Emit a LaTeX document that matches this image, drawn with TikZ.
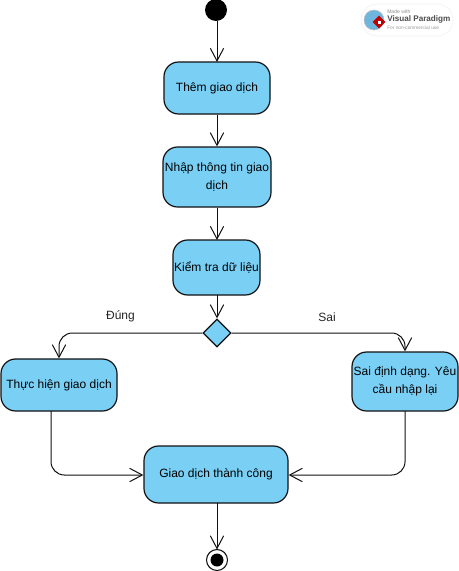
\documentclass[tikz,border=0pt]{standalone}
\usepackage{fontspec}
\setmainfont{Liberation Sans}
\usetikzlibrary{arrows.meta,shapes.geometric,calc}
\definecolor{fillblue}{HTML}{7ACFF5}
\definecolor{linedark}{HTML}{111111}
\definecolor{globeblue}{HTML}{6FB6DE}
\tikzset{
  x=0.75pt,y=-0.75pt,
  act/.style={draw=linedark,fill=fillblue,line width=0.9pt,rounded corners=11pt,align=center,font=\fontsize{9}{13}\selectfont,inner sep=0pt},
  flow/.style={draw=linedark,line width=0.75pt,-{Straight Barb[length=9.5pt,width=10pt,line width=0.75pt]},rounded corners=10pt},
  lbl/.style={font=\fontsize{9}{11}\selectfont,inner sep=0pt,text=black!85}
}
\newcommand{\actbox}[6]{\node[act,minimum width=#4*0.75pt,minimum height=#5*0.75pt] (#1) at (#2,#3) {#6};}
\begin{document}
\begin{tikzpicture}
\useasboundingbox (0,0) rectangle (459,571);
\fill[white] (0,0) rectangle (459,571);
% logo
\node[draw=black!6,fill=white,rounded corners=12pt,minimum width=92*0.75pt,minimum height=32*0.75pt,inner sep=0pt] (logo) at (407,20) {};
\node[circle,fill=globeblue,draw=black!25,minimum size=20*0.75pt,inner sep=0pt] (globe) at (374,20) {};
\node[diamond,fill=red!75!black,minimum size=13*0.75pt,inner sep=0pt] (gem) at (379,22) {};
\node[fill=white,minimum size=3*0.75pt,inner sep=0pt] (gemin) at (379,22) {};
\node[font=\fontsize{3.8}{4}\selectfont,text=black!45,anchor=west,inner sep=0pt] (l1) at (387,11.5) {Made with};
\node[font=\bfseries\fontsize{6.1}{7}\selectfont,text=black!70,anchor=west,inner sep=0pt] (l2) at (387,19) {Visual Paradigm};
\node[font=\fontsize{3.6}{4}\selectfont,text=black!40,anchor=west,inner sep=0pt] (l3) at (387,27.5) {For non-commercial use};
% nodes
\node[circle,fill=black,minimum size=22*0.75pt,inner sep=0pt] (start) at (216,10) {};
\actbox{them}{217}{88}{106}{52}{Thêm giao dịch}
\actbox{nhap}{217}{177}{108}{60}{Nhập thông tin giao\\dịch}
\actbox{kiem}{216.5}{267.5}{87}{55}{Kiểm tra dữ liệu}
\node[diamond,draw=linedark,fill=fillblue,line width=0.9pt,minimum width=28*0.75pt,minimum height=28*0.75pt,inner sep=0pt] (dec) at (217,333) {};
\actbox{thuc}{59}{385}{116}{52}{Thực hiện giao dịch}
\actbox{sai}{405}{381.5}{106}{59}{Sai định dạng. Yêu\\cầu nhập lại}
\actbox{gd}{216}{474.5}{144}{57}{Giao dịch thành công}
\node[circle,draw=linedark,fill=white,line width=0.8pt,minimum size=21*0.75pt,inner sep=0pt] (end) at (217,560) {};
\node[circle,fill=black,minimum size=13*0.75pt,inner sep=0pt] (endin) at (217,560) {};
% flows
\draw[flow] (217,21) -- (217,62);
\draw[flow] (them.south) -- (nhap.north);
\draw[flow] (nhap.south) -- (217,240);
\draw[flow] (217,295) -- (dec.north);
\draw[flow] (dec.west) -- (thuc.north |- dec.west) -- (thuc.north);
\draw[flow] (dec.east) -- (sai.north |- dec.east) -- (sai.north);
\coordinate (tb) at (51,411);
\coordinate (sb) at (405,411);
\draw[flow] (tb) -- (51,475) -- (gd.west |- 0,475);
\draw[flow] (sb) -- (405,475) -- (gd.east |- 0,475);
\draw[flow] (217,503) -- (217,549.5);
% labels
\node[lbl] (dung) at (120.5,316.5) {Đúng};
\node[lbl] (sailbl) at (327,317) {Sai};
\end{tikzpicture}
\end{document}
